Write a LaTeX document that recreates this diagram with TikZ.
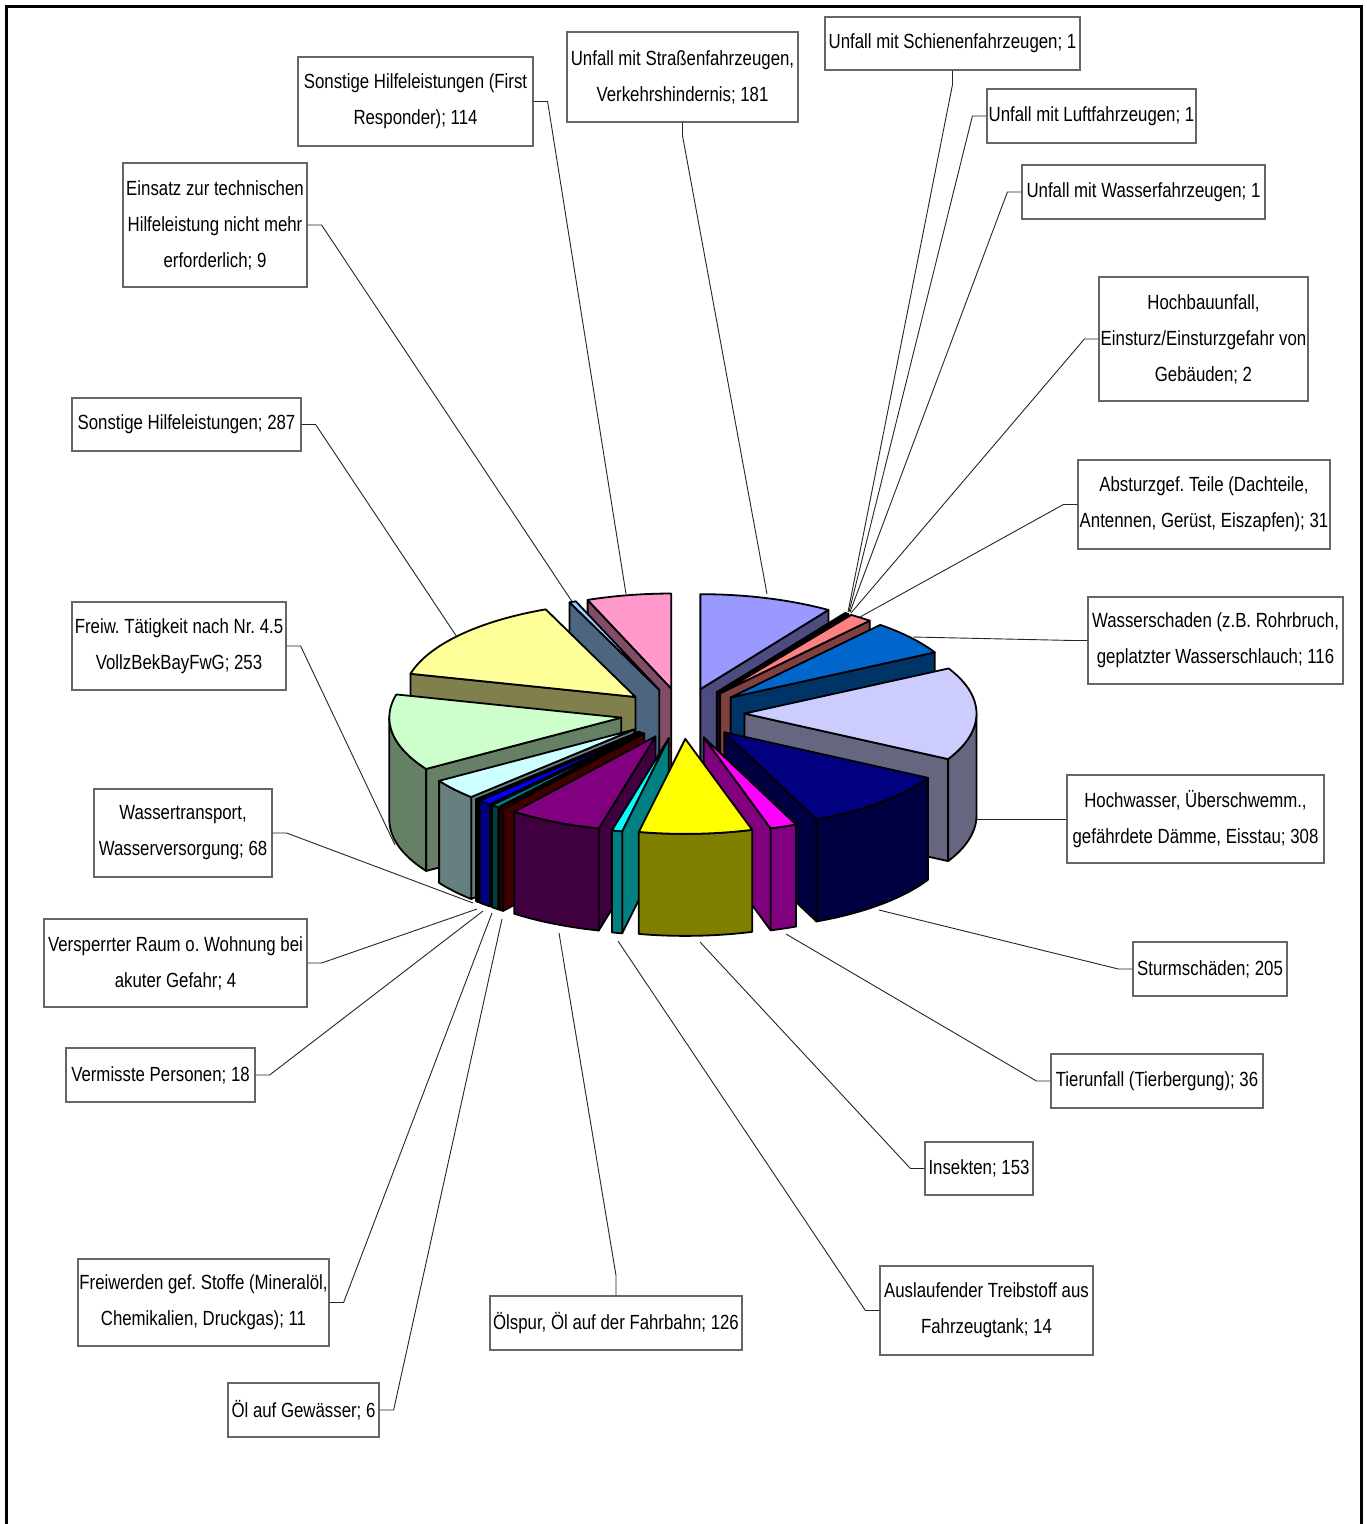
\documentclass[tikz,border=0pt]{standalone}
\usepackage{fontspec}
\setmainfont[FakeStretch=0.82]{Liberation Sans}
\frenchspacing
\definecolor{c1}{HTML}{9999FF}
\definecolor{c2}{HTML}{993366}
\definecolor{c3}{HTML}{FFFFCC}
\definecolor{c4}{HTML}{CCFFFF}
\definecolor{c5}{HTML}{660066}
\definecolor{c6}{HTML}{FF8080}
\definecolor{c7}{HTML}{0066CC}
\definecolor{c8}{HTML}{CCCCFF}
\definecolor{c9}{HTML}{000080}
\definecolor{c10}{HTML}{FF00FF}
\definecolor{c11}{HTML}{FFFF00}
\definecolor{c12}{HTML}{00FFFF}
\definecolor{c13}{HTML}{800080}
\definecolor{c14}{HTML}{800000}
\definecolor{c15}{HTML}{008080}
\definecolor{c16}{HTML}{0000FF}
\definecolor{c17}{HTML}{00CCFF}
\definecolor{c18}{HTML}{CCFFFF}
\definecolor{c19}{HTML}{CCFFCC}
\definecolor{c20}{HTML}{FFFF99}
\definecolor{c21}{HTML}{99CCFF}
\definecolor{c22}{HTML}{FF99CC}
\def\CX{682.5}\def\CY{713.5}\def\RA{232}\def\RB{95}\def\EX{62}\def\EY{25.4}\def\HH{102}
\newcommand{\pieslice}[3]{%
  \pgfmathsetmacro{\psM}{(#1+#2)/2}%
  \pgfmathsetmacro{\psX}{\CX+\EX*sin(\psM)}%
  \pgfmathsetmacro{\psY}{\CY-\EY*cos(\psM)}%
  \pgfmathtruncatemacro{\psS}{sin(#1)<-0.001 ? 1 : 0}%
  \pgfmathtruncatemacro{\psE}{sin(#2)>0.001 ? 1 : 0}%
  \pgfmathsetmacro{\psUa}{max(#1,90)}%
  \pgfmathsetmacro{\psUb}{min(#2,270)}%
  \pgfmathtruncatemacro{\psO}{\psUb>\psUa ? 1 : 0}%
  \ifnum\psS=1
    \filldraw[pie, fill=#3!50!black] (\psX,\psY) -- ({\psX+\RA*sin(#1)},{\psY-\RB*cos(#1)}) -- ++(0,\HH) -- (\psX,{\psY+\HH}) -- cycle;
  \fi
  \ifnum\psE=1
    \filldraw[pie, fill=#3!50!black] (\psX,\psY) -- ({\psX+\RA*sin(#2)},{\psY-\RB*cos(#2)}) -- ++(0,\HH) -- (\psX,{\psY+\HH}) -- cycle;
  \fi
  \ifnum\psO=1
    \filldraw[pie, fill=#3!50!black] plot[domain=\psUa:\psUb, samples=40] ({\psX+\RA*sin(\x)},{\psY-\RB*cos(\x)}) -- plot[domain=\psUb:\psUa, samples=40] ({\psX+\RA*sin(\x)},{\psY-\RB*cos(\x)+\HH}) -- cycle;
  \fi
  \filldraw[pie, fill=#3] (\psX,\psY) -- plot[domain=#1:#2, samples=60] ({\psX+\RA*sin(\x)},{\psY-\RB*cos(\x)}) -- cycle;
}
\newcommand{\lab}[6]{%
  \node[lbl, minimum width={#4-#2}, minimum height={#5-#3}] (#1) at ({(#2+#4)/2},{(#3+#5)/2}) {#6};}
\tikzset{
  pie/.style={draw=black, line width=1.8pt, line join=round},
  lbl/.style={draw=black!60, line width=1.2pt, fill=white, inner sep=0pt, align=center, font=\fontsize{20.5}{36}\selectfont},
  leader/.style={draw=black!85, line width=0.9pt},
}
\begin{document}
\begin{tikzpicture}[x=1pt, y=-1pt]
\useasboundingbox (0,0) rectangle (1367,1524);
\fill[white] (0,0) rectangle (1367,1524);
\draw[line width=3pt] (6,1524) -- (6,6) -- (1361,6) -- (1361,1524);
% labels
\lab{lFR}{298}{57}{533}{146}{Sonstige Hilfeleistungen (First\\Responder); 114}
\lab{lSt}{567}{32}{798}{122}{Unfall mit Straßenfahrzeugen,\\Verkehrshindernis; 181}
\lab{lSc}{825}{17}{1080}{70}{Unfall mit Schienenfahrzeugen; 1}
\lab{lLu}{987}{89}{1196}{143}{Unfall mit Luftfahrzeugen; 1}
\lab{lWf}{1022}{165}{1265}{219}{Unfall mit Wasserfahrzeugen; 1}
\lab{lHb}{1099}{277}{1308}{401}{Hochbauunfall,\\Einsturz/Einsturzgefahr von\\Gebäuden; 2}
\lab{lAb}{1078}{460}{1330}{549}{Absturzgef. Teile (Dachteile,\\Antennen, Gerüst, Eiszapfen); 31}
\lab{lWs}{1088}{597}{1343}{684}{Wasserschaden (z.B. Rohrbruch,\\geplatzter Wasserschlauch; 116}
\lab{lHw}{1067}{775}{1324}{863}{Hochwasser, Überschwemm.,\\gefährdete Dämme, Eisstau; 308}
\lab{lSs}{1133}{942}{1287}{996}{Sturmschäden; 205}
\lab{lTi}{1051}{1054}{1263}{1108}{Tierunfall (Tierbergung); 36}
\lab{lIn}{925}{1142}{1033}{1195}{Insekten; 153}
\lab{lAu}{880}{1266}{1093}{1355}{Auslaufender Treibstoff aus\\Fahrzeugtank; 14}
\lab{lOs}{490}{1296}{742}{1350}{Ölspur, Öl auf der Fahrbahn; 126}
\lab{lOg}{228}{1383}{379}{1437}{Öl auf Gewässer; 6}
\lab{lFs}{78}{1259}{329}{1346}{Freiwerden gef. Stoffe (Mineralöl,\\Chemikalien, Druckgas); 11}
\lab{lVm}{66}{1048}{255}{1102}{Vermisste Personen; 18}
\lab{lVr}{44}{919}{307}{1007}{Versperrter Raum o. Wohnung bei\\akuter Gefahr; 4}
\lab{lWt}{94}{789}{272}{877}{Wassertransport,\\Wasserversorgung; 68}
\lab{lFw}{72}{602}{286}{690}{Freiw. Tätigkeit nach Nr. 4.5\\VollzBekBayFwG; 253}
\lab{lSo}{72}{398}{301}{451}{Sonstige Hilfeleistungen; 287}
\lab{lEi}{123}{163}{307}{287}{Einsatz zur technischen\\Hilfeleistung nicht mehr\\erforderlich; 9}
% leader end points
\coordinate (pFR) at (626,594);
\coordinate (pSt) at (767,594);
\coordinate (pSc) at (848,612);
\coordinate (pLu) at (849,612);
\coordinate (pWf) at (850,612);
\coordinate (pHb) at (851,613);
\coordinate (pAb) at (860,617);
\coordinate (pWs) at (913,637);
\coordinate (pHw) at (975,819);
\coordinate (pSs) at (879,910);
\coordinate (pTi) at (786,934);
\coordinate (pIn) at (700,942);
\coordinate (pAu) at (618,941);
\coordinate (pOs) at (559,933);
\coordinate (pOg) at (502,919);
\coordinate (pFs) at (492,913);
\coordinate (pVm) at (483,911);
\coordinate (pVr) at (477,909);
\coordinate (pWt) at (473,903);
\coordinate (pFw) at (395,845);
\coordinate (pSo) at (457,637);
\coordinate (pEi) at (573,603);
% leaders
\draw[leader] (lFR.east) -- ++(14,0) -- (pFR);
\draw[leader] (lSt.south) -- ++(0,13) -- (pSt);
\draw[leader] (lSc.south) -- ++(0,14) -- (pSc);
\draw[leader] (lLu.west) -- ++(-14,0) -- (pLu);
\draw[leader] (lWf.west) -- ++(-14,0) -- (pWf);
\draw[leader] (lHb.west) -- ++(-14,0) -- (pHb);
\draw[leader] (lAb.west) -- ++(-14,0) -- (pAb);
\draw[leader] (lWs.west) -- ++(-14,0) -- (pWs);
\draw[leader] (lHw.west) -- (pHw);
\draw[leader] (lSs.west) -- ++(-14,0) -- (pSs);
\draw[leader] (lTi.west) -- ++(-14,0) -- (pTi);
\draw[leader] (lIn.west) -- ++(-14,0) -- (pIn);
\draw[leader] (lAu.west) -- ++(-14,0) -- (pAu);
\draw[leader] (lOs.north) -- ++(0,-20) -- (pOs);
\draw[leader] (lOg.east) -- ++(14,0) -- (pOg);
\draw[leader] (lFs.east) -- ++(14,0) -- (pFs);
\draw[leader] (lVm.east) -- ++(14,0) -- (pVm);
\draw[leader] (lVr.east) -- ++(14,0) -- (pVr);
\draw[leader] (lWt.east) -- ++(14,0) -- (pWt);
\draw[leader] (lFw.east) -- ++(14,0) -- (pFw);
\draw[leader] (lSo.east) -- ++(14,0) -- (pSo);
\draw[leader] (lEi.east) -- ++(14,0) -- (pEi);
% pie slices, back to front
\pieslice{338.900}{360}{c22}
\pieslice{0}{33.501}{c1}
\pieslice{337.234}{338.900}{c21}
\pieslice{33.501}{33.686}{c2}
\pieslice{33.686}{33.871}{c3}
\pieslice{33.871}{34.057}{c4}
\pieslice{34.057}{34.427}{c5}
\pieslice{34.427}{40.165}{c6}
\pieslice{284.113}{337.234}{c20}
\pieslice{40.165}{61.635}{c7}
\pieslice{61.635}{118.643}{c8}
\pieslice{237.285}{284.113}{c19}
\pieslice{224.699}{237.285}{c18}
\pieslice{223.959}{224.699}{c17}
\pieslice{220.627}{223.959}{c16}
\pieslice{118.643}{156.586}{c9}
\pieslice{218.591}{220.627}{c15}
\pieslice{217.481}{218.591}{c14}
\pieslice{194.159}{217.481}{c13}
\pieslice{156.586}{163.249}{c10}
\pieslice{191.568}{194.159}{c12}
\pieslice{163.249}{191.568}{c11}
\end{tikzpicture}
\end{document}
